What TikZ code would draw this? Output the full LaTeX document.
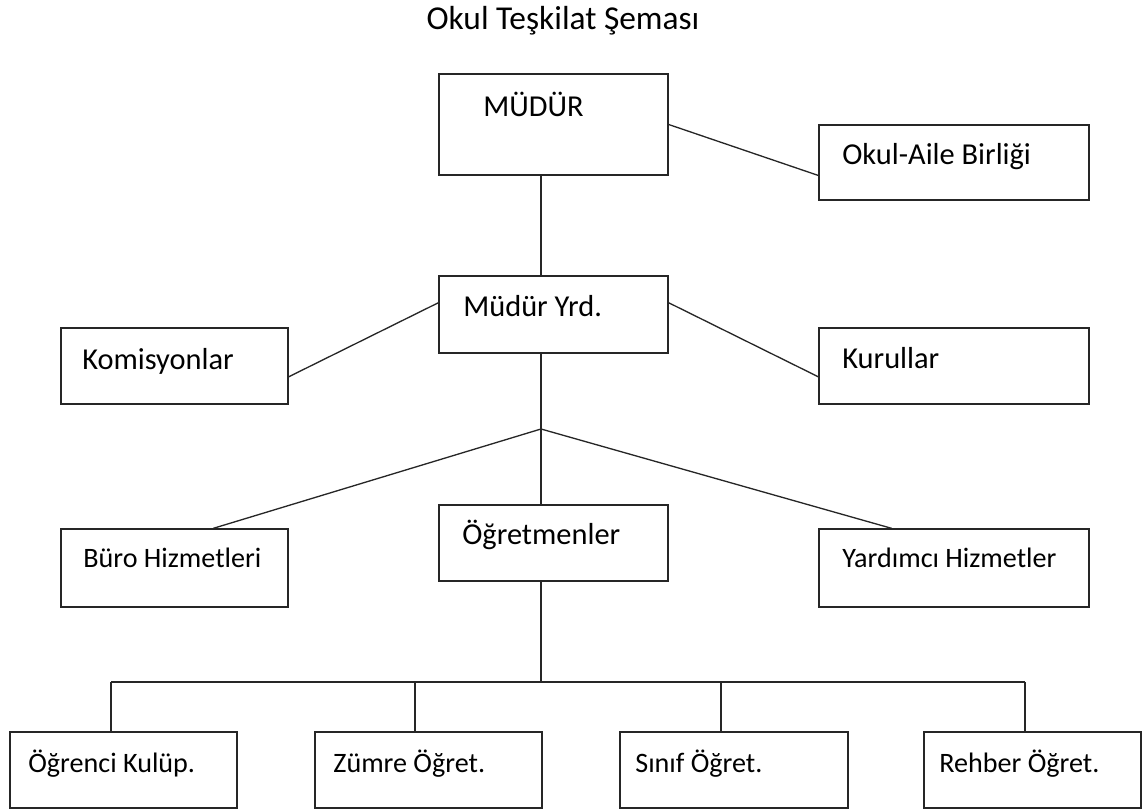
\documentclass[tikz,border=0pt]{standalone}
\usepackage{fontspec}
\setmainfont{Carlito}
\usepackage{tikz}
\usetikzlibrary{calc,positioning,fit}

\begin{document}
\begin{tikzpicture}[x=0.02cm,y=-0.02cm,
        box/.style={draw=black!85,line width=0.75pt,inner sep=0pt},
        link/.style={draw=black!85,line width=0.75pt},
        bigtext/.style={anchor=base west,inner sep=0pt,font=\fontsize{17.3}{20}\selectfont},
        smalltext/.style={anchor=base west,inner sep=0pt,font=\fontsize{16}{19}\selectfont}]
        \useasboundingbox (0,0) rectangle (1144,810);
        \node[anchor=base,inner sep=0pt,font=\fontsize{19}{22}\selectfont] (title) at (563,30) {Okul Teşkilat Şeması};

        % kutular
        \node[box,fit={(439,74) (668,175)}] (mudur) {};
        \node[box,fit={(819,125) (1089,200)}] (aile) {};
        \node[box,fit={(439,276) (668,353)}] (yrd) {};
        \node[box,fit={(61,328) (288,404)}] (komisyon) {};
        \node[box,fit={(819,328) (1089,404)}] (kurul) {};
        \node[box,fit={(61,529) (288,607)}] (buro) {};
        \node[box,fit={(439,505) (668,581)}] (ogretmen) {};
        \node[box,fit={(819,529) (1089,607)}] (yardimci) {};
        \node[box,fit={(10,732) (237,808)}] (kulup) {};
        \node[box,fit={(315,732) (542,808)}] (zumre) {};
        \node[box,fit={(620,732) (848,808)}] (sinif) {};
        \node[box,fit={(924,732) (1141,808)}] (rehber) {};

        % yazilar
        \node[bigtext] (mudurT) at (483,117) {MÜDÜR};
        \node[bigtext] (aileT) at (842,165) {Okul-Aile Birliği};
        \node[bigtext] (yrdT) at (463,317) {Müdür Yrd.};
        \node[bigtext] (komisyonT) at (82,370) {Komisyonlar};
        \node[bigtext] (kurulT) at (842,369) {Kurullar};
        \node[smalltext] (buroT) at (83,568) {Büro Hizmetleri};
        \node[bigtext] (ogretmenT) at (462,545) {Öğretmenler};
        \node[smalltext] (yardimciT) at (842,568) {Yardımcı Hizmetler};
        \node[smalltext] (kulupT) at (28,773) {Öğrenci Kulüp.};
        \node[smalltext] (zumreT) at (333,773) {Zümre Öğret.};
        \node[smalltext] (sinifT) at (635,773) {Sınıf Öğret.};
        \node[smalltext] (rehberT) at (939,773) {Rehber Öğret.};

        % baglantilar
        \coordinate (spine) at (541,429);
        \coordinate (bar) at (541,682);
        \coordinate (d1) at (111,682);
        \coordinate (d2) at (415,682);
        \coordinate (d3) at (721,682);
        \coordinate (d4) at (1025,682);
        \draw[link] (mudur.south -| spine) -- (yrd.north -| spine);
        \draw[link] (mudur.east) -- ($(aile.north west)!0.67!(aile.south west)$);
        \draw[link] ($(yrd.north west)!0.35!(yrd.south west)$) -- ($(komisyon.north east)!0.64!(komisyon.south east)$);
        \draw[link] ($(yrd.north east)!0.35!(yrd.south east)$) -- ($(kurul.north west)!0.64!(kurul.south west)$);
        \draw[link] (yrd.south -| spine) -- (ogretmen.north -| spine);
        \draw[link] ($(buro.north west)!0.67!(buro.north east)$) -- (spine) -- ($(yardimci.north west)!0.27!(yardimci.north east)$);
        \draw[link] (ogretmen.south -| spine) -- (bar);
        \draw[link] (d1) -- (d4);
        \draw[link] (d1) -- (d1 |- kulup.north);
        \draw[link] (d2) -- (d2 |- zumre.north);
        \draw[link] (d3) -- (d3 |- sinif.north);
        \draw[link] (d4) -- (d4 |- rehber.north);
\end{tikzpicture}
\end{document}
